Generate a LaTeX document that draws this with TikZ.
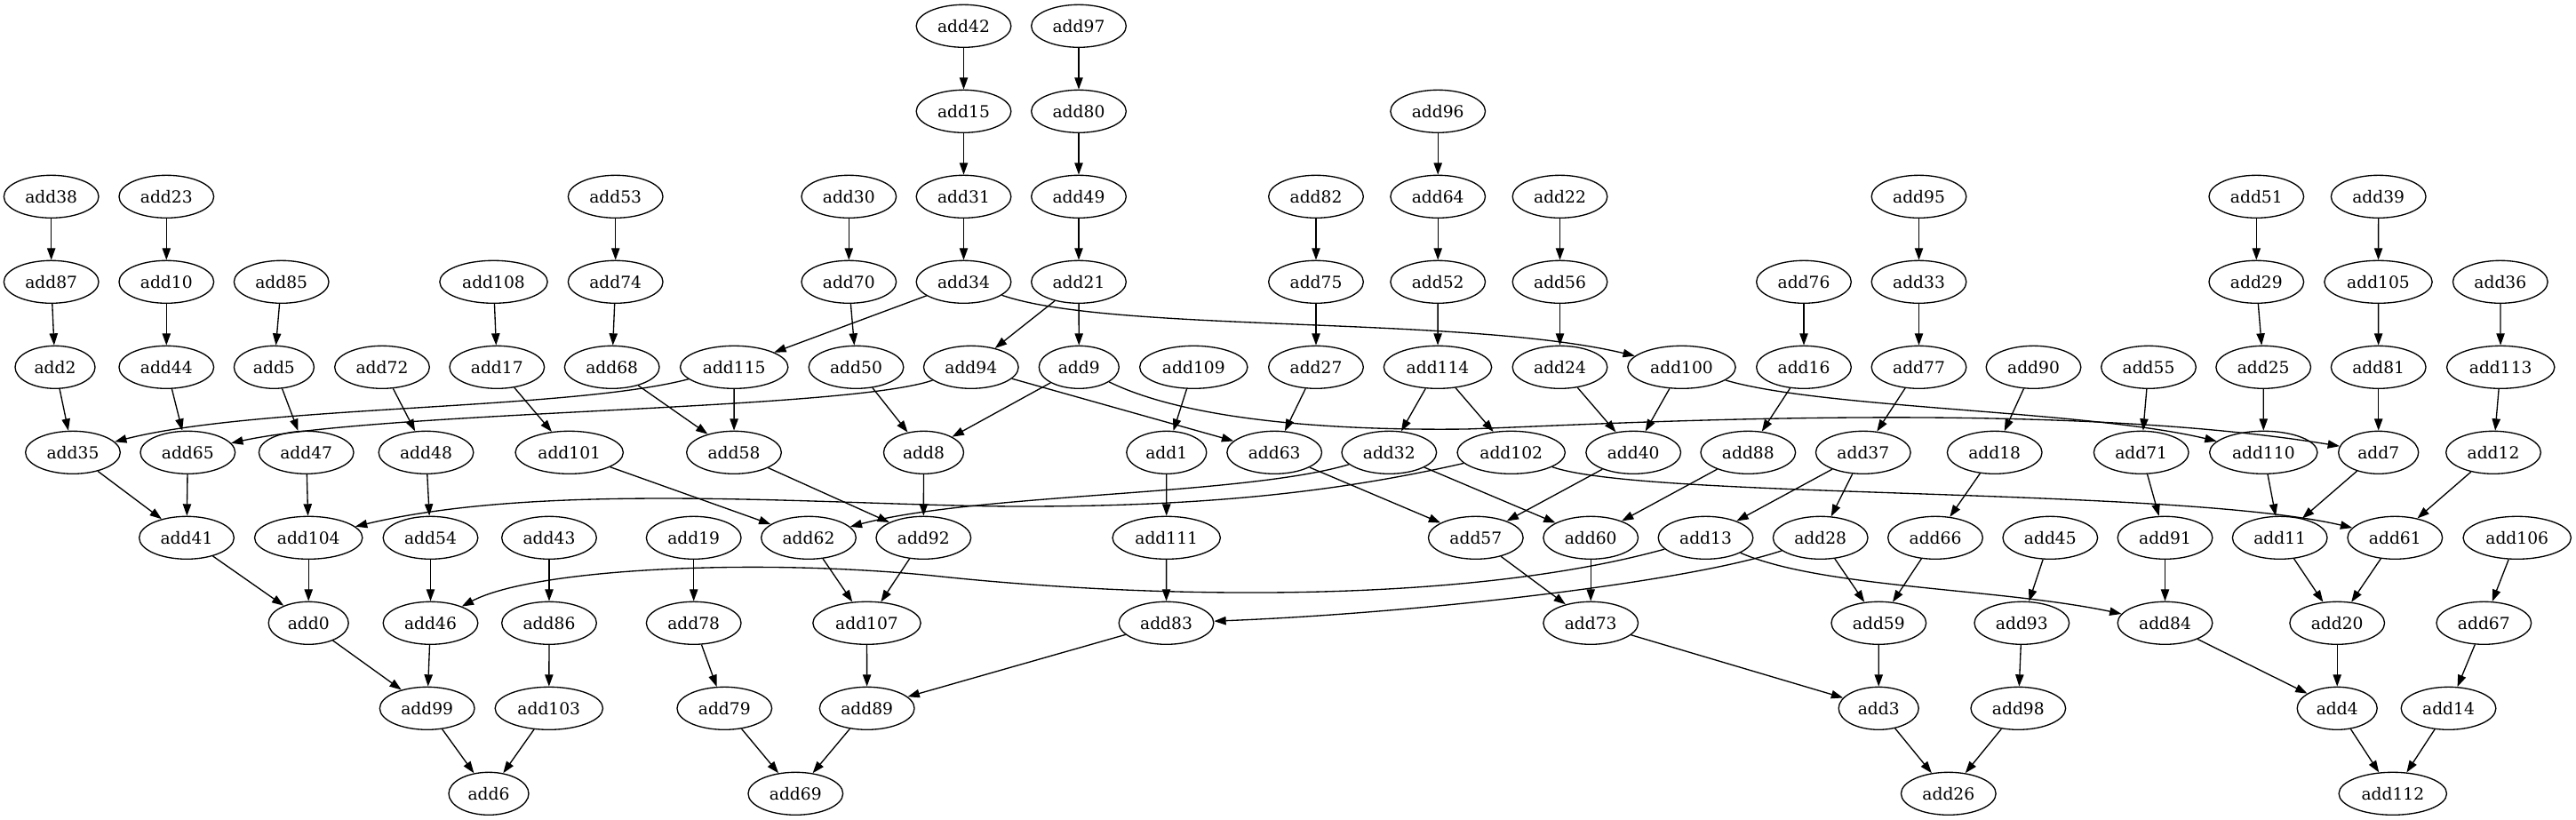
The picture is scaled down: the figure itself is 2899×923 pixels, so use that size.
\documentclass[tikz,border=0pt]{standalone}
\usepackage{fontspec}
\setmainfont{DejaVu Serif}
\usetikzlibrary{shapes.geometric,arrows.meta}
\newcommand{\gn}[4]{\node[nd,#1] (#2) at (#3,#4) {#2};}
\begin{document}
\begin{tikzpicture}[x=0.75pt,y=-0.75pt,
  nd/.style={ellipse,draw,line width=1pt,inner sep=0pt,minimum height=36pt,font=\fontsize{14}{16}\selectfont},
  wa/.style={minimum width=67.5pt},
  wb/.style={minimum width=80pt},
  wc/.style={minimum width=91pt},
  edge/.style={-{Triangle[length=10pt,width=7pt]},line width=1pt}]
\fill[white] (0,0) rectangle (2899,923);
\useasboundingbox (0,0) rectangle (2899,923);
% row 1
\gn{wb}{add42}{1084.5}{29.3}
\gn{wb}{add97}{1214}{29.3}
% row 2
\gn{wb}{add15}{1084.5}{125.3}
\gn{wb}{add80}{1214}{125.3}
\gn{wb}{add96}{1618.2}{125.3}
% row 3
\gn{wb}{add38}{57.7}{221.3}
\gn{wb}{add23}{187.3}{221.3}
\gn{wb}{add53}{692.7}{221.3}
\gn{wb}{add30}{955.3}{221.3}
\gn{wb}{add31}{1084.5}{221.3}
\gn{wb}{add49}{1214}{221.3}
\gn{wb}{add82}{1481}{221.3}
\gn{wb}{add64}{1618.2}{221.3}
\gn{wb}{add22}{1755.5}{221.3}
\gn{wb}{add95}{2159.5}{221.3}
\gn{wb}{add51}{2539.3}{221.3}
\gn{wb}{add39}{2676.7}{221.3}
% row 4
\gn{wb}{add87}{57.7}{317.3}
\gn{wb}{add10}{187.3}{317.3}
\gn{wb}{add85}{316.7}{317.3}
\gn{wc}{add108}{555.5}{317.3}
\gn{wb}{add74}{692.7}{317.3}
\gn{wb}{add70}{955.3}{317.3}
\gn{wb}{add34}{1084.5}{317.3}
\gn{wb}{add21}{1214}{317.3}
\gn{wb}{add75}{1481}{317.3}
\gn{wb}{add52}{1618.2}{317.3}
\gn{wb}{add56}{1755.5}{317.3}
\gn{wb}{add76}{2030}{317.3}
\gn{wb}{add33}{2159.5}{317.3}
\gn{wb}{add29}{2539.3}{317.3}
\gn{wc}{add105}{2676.5}{317.3}
\gn{wb}{add36}{2813.8}{317.3}
% row 5
\gn{wa}{add2}{62}{413.3}
\gn{wb}{add44}{187.3}{413.3}
\gn{wa}{add5}{308.4}{413.3}
\gn{wb}{add72}{430}{413.3}
\gn{wb}{add17}{559.3}{413.3}
\gn{wb}{add68}{688.7}{413.3}
\gn{wc}{add115}{826.2}{413.3}
\gn{wb}{add50}{963.5}{413.3}
\gn{wb}{add94}{1092.8}{413.3}
\gn{wa}{add9}{1214.3}{413.3}
\gn{wc}{add109}{1343.3}{413.3}
\gn{wb}{add27}{1481}{413.3}
\gn{wc}{add114}{1618}{413.3}
\gn{wb}{add24}{1755.5}{413.3}
\gn{wc}{add100}{1892.5}{413.3}
\gn{wb}{add16}{2030}{413.3}
\gn{wb}{add77}{2159.5}{413.3}
\gn{wb}{add90}{2288.5}{413.3}
\gn{wb}{add55}{2418}{413.3}
\gn{wb}{add25}{2547.2}{413.3}
\gn{wb}{add81}{2676.7}{413.3}
\gn{wc}{add113}{2814.2}{413.3}
% row 6
\gn{wb}{add35}{82}{509.3}
\gn{wb}{add65}{211.3}{509.3}
\gn{wb}{add47}{344.7}{509.3}
\gn{wb}{add48}{479.5}{509.3}
\gn{wc}{add101}{640.7}{509.3}
\gn{wb}{add58}{826}{509.3}
\gn{wa}{add8}{1039.5}{509.3}
\gn{wa}{add1}{1312.8}{509.3}
\gn{wb}{add63}{1434.2}{509.3}
\gn{wb}{add32}{1563.3}{509.3}
\gn{wc}{add102}{1700.7}{509.3}
\gn{wb}{add40}{1838.2}{509.3}
\gn{wb}{add88}{1967.3}{509.3}
\gn{wb}{add37}{2096.8}{509.3}
\gn{wb}{add18}{2244.7}{509.3}
\gn{wb}{add71}{2409.7}{509.3}
\gn{wc}{add110}{2547.3}{509.3}
\gn{wa}{add7}{2676.7}{509.3}
\gn{wb}{add12}{2806}{509.3}
% row 7
\gn{wb}{add41}{210}{605.3}
\gn{wc}{add104}{347.2}{605.3}
\gn{wb}{add54}{484.5}{605.3}
\gn{wb}{add43}{618}{605.3}
\gn{wb}{add19}{780.7}{605.3}
\gn{wb}{add62}{910}{605.3}
\gn{wb}{add92}{1039.3}{605.3}
\gn{wc}{add111}{1312.7}{605.3}
\gn{wb}{add57}{1660.8}{605.3}
\gn{wb}{add60}{1790.2}{605.3}
\gn{wb}{add13}{1919.5}{605.3}
\gn{wb}{add28}{2048.7}{605.3}
\gn{wb}{add66}{2178}{605.3}
\gn{wb}{add45}{2307.3}{605.3}
\gn{wb}{add91}{2436.5}{605.3}
\gn{wb}{add11}{2565.7}{605.3}
\gn{wb}{add61}{2695.3}{605.3}
\gn{wc}{add106}{2832.7}{605.3}
% row 8
\gn{wa}{add0}{347.2}{701.3}
\gn{wb}{add46}{484.5}{701.3}
\gn{wb}{add86}{618}{701.3}
\gn{wb}{add78}{780.7}{701.3}
\gn{wc}{add107}{975.5}{701.3}
\gn{wb}{add83}{1312.5}{701.3}
\gn{wb}{add73}{1790.2}{701.3}
\gn{wb}{add59}{2114.3}{701.3}
\gn{wb}{add93}{2275.3}{701.3}
\gn{wb}{add84}{2436.5}{701.3}
\gn{wb}{add20}{2630.2}{701.3}
\gn{wb}{add67}{2795.3}{701.3}
% row 9
\gn{wb}{add99}{480.7}{797.3}
\gn{wc}{add103}{617.8}{797.3}
\gn{wb}{add79}{815.3}{797.3}
\gn{wb}{add89}{975.7}{797.3}
\gn{wa}{add3}{2114.2}{797.3}
\gn{wb}{add98}{2271.3}{797.3}
\gn{wa}{add4}{2630.2}{797.3}
\gn{wb}{add14}{2755.5}{797.3}
% row 10
\gn{wa}{add6}{550}{893.3}
\gn{wb}{add69}{895.3}{893.3}
\gn{wb}{add26}{2192.8}{893.3}
\gn{wc}{add112}{2692.8}{893.3}
% straight edges
\foreach \a/\b in {add42/add15,add97/add80,add15/add31,add80/add49,add31/add34,add49/add21,
  add96/add64,add64/add52,add52/add114,add38/add87,add87/add2,add2/add35,add23/add10,add10/add44,
  add44/add65,add85/add5,add5/add47,add47/add104,add104/add0,add72/add48,add48/add54,add54/add46,
  add108/add17,add17/add101,add101/add62,add53/add74,add74/add68,add68/add58,add30/add70,add70/add50,
  add50/add8,add34/add115,add21/add94,add21/add9,add115/add58,add9/add8,add109/add1,add1/add111,
  add111/add83,add82/add75,add75/add27,add27/add63,add63/add57,add114/add32,add114/add102,add32/add60,
  add22/add56,add56/add24,add24/add40,add100/add40,add40/add57,add57/add73,add60/add73,add73/add3,
  add76/add16,add16/add88,add88/add60,add95/add33,add33/add77,add77/add37,add37/add13,add37/add28,
  add28/add59,add66/add59,add59/add3,add3/add26,add90/add18,add18/add66,add45/add93,add93/add98,
  add98/add26,add55/add71,add71/add91,add91/add84,add84/add4,add51/add29,add29/add25,add25/add110,
  add110/add11,add11/add20,add20/add4,add4/add112,add39/add105,add105/add81,add81/add7,add7/add11,
  add36/add113,add113/add12,add12/add61,add61/add20,add106/add67,add67/add14,add14/add112,
  add35/add41,add65/add41,add41/add0,add0/add99,add46/add99,add99/add6,add43/add86,add86/add103,
  add103/add6,add19/add78,add78/add79,add79/add69,add89/add69,add107/add89,add83/add89,add62/add107,
  add92/add107,add58/add92,add8/add92,add94/add63}
  {\draw[edge] (\a) -- (\b);}
% curved edges
\draw[edge] (add115) .. controls (640,462) and (290,456) .. (add35);
\draw[edge] (add94) .. controls (950,462) and (430,462) .. (add65);
\draw[edge] (add34) .. controls (1250,375) and (1650,355) .. (add100);
\draw[edge] (add9) .. controls (1330,470) and (1480,485) .. (1650,483) .. controls (1800,478) and (2300,448) .. (add7);
\draw[edge] (add100) .. controls (2050,460) and (2350,462) .. (add110);
\draw[edge] (add102) .. controls (1500,555) and (1350,570) .. (1150,570) .. controls (950,570) and (620,540) .. (add104);
\draw[edge] (add32) .. controls (1400,558) and (1100,555) .. (add62);
\draw[edge] (add102) .. controls (1850,562) and (2450,548) .. (add61);
\draw[edge] (add13) .. controls (1650,680) and (1300,675) .. (1050,648) .. controls (850,628) and (600,640) .. (add46);
\draw[edge] (add28) .. controls (1900,655) and (1600,690) .. (add83);
\draw[edge] (add13) .. controls (2050,662) and (2250,662) .. (add84);
\end{tikzpicture}
\end{document}
